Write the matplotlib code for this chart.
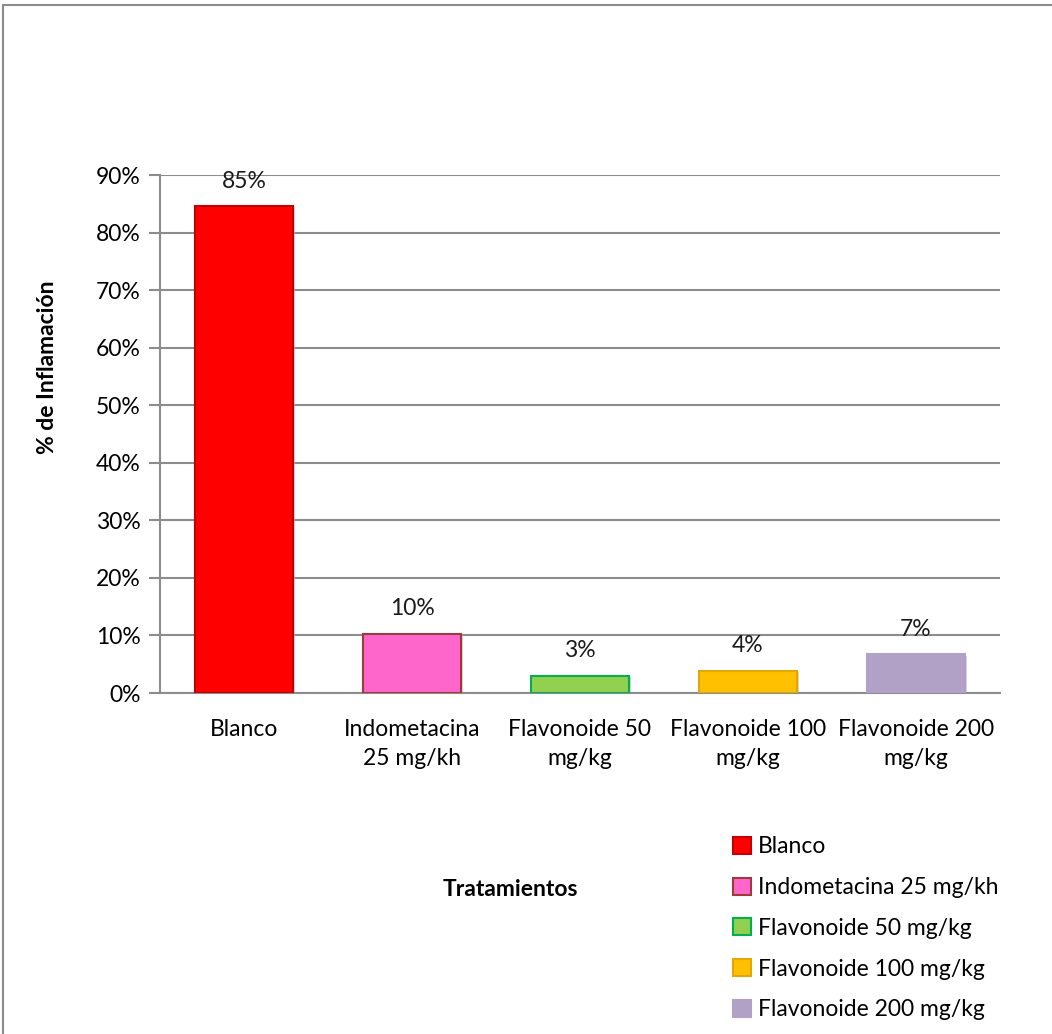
import matplotlib
matplotlib.use("Agg")
import matplotlib.pyplot as plt
from matplotlib.patches import Rectangle
from matplotlib.ticker import FuncFormatter

plt.rcParams['font.family'] = ['Lato', 'DejaVu Sans']

tratamientos = ["Blanco", "Indometacina 25 mg/kh", "Flavonoide 50 mg/kg",
                "Flavonoide 100 mg/kg", "Flavonoide 200 mg/kg"]
tick_labels = ["Blanco", "Indometacina\n25 mg/kh", "Flavonoide 50\nmg/kg",
               "Flavonoide 100\nmg/kg", "Flavonoide 200\nmg/kg"]
inflamacion = [0.846, 0.103, 0.030, 0.039, 0.067]

fill_colors = ["#FF0000", "#FF66CC", "#92D050", "#FFC000", "#B2A1C7"]
edge_colors = ["#C00000", "#9B3B3B", "#00B050", "#E0A800", "#B2A1C7"]

FS = 16.5

fig = plt.figure(figsize=(10.52, 10.34), dpi=100)
ax = fig.add_axes([160 / 1052, 1 - 693 / 1034, 840 / 1052, 518 / 1034])

# outer chart frame
fig.patches.append(Rectangle((3 / 1052, -0.01), 1.2, 1 - 5 / 1034 + 0.01,
                             transform=fig.transFigure, fill=False,
                             edgecolor="#8C8C8C", linewidth=1.5))

x = range(len(tratamientos))
bars = []
for i, (v, fc, ec, name) in enumerate(zip(inflamacion, fill_colors,
                                          edge_colors, tratamientos)):
    # soft drop shadow behind each bar
    ax.bar(i + 0.012, v, width=0.58, bottom=-0.002, color="#BDBDBD",
           alpha=0.6, zorder=2, linewidth=0)
    b = ax.bar(i, v, width=0.58, color=fc, edgecolor=ec, linewidth=1.5,
               zorder=3, label=name)
    bars.append(b)
    ax.annotate(f"{v:.0%}", (i, v), xytext=(0, 18), textcoords="offset points",
                ha="center", va="center", fontsize=FS, color="#1a1a1a")

ax.set_xlim(-0.5, 4.5)
ax.set_ylim(0, 0.9)
ax.set_yticks([i / 10 for i in range(10)])
ax.yaxis.set_major_formatter(FuncFormatter(lambda v, _: f"{v:.0%}"))
ax.set_xticks(list(x))
ax.set_xticklabels(tick_labels, fontsize=FS, linespacing=1.45)
ax.tick_params(axis="x", length=0, pad=19)
ax.tick_params(axis="y", length=8, width=1.5, color="#8C8C8C",
               labelsize=FS, pad=6)
ax.grid(axis="y", color="#8C8C8C", linewidth=1.5, zorder=0)
ax.set_axisbelow(True)
for s in ("top", "right"):
    ax.spines[s].set_visible(False)
for s in ("left", "bottom"):
    ax.spines[s].set_color("#8C8C8C")
    ax.spines[s].set_linewidth(1.5)

fig.text(48 / 1052, 1 - 367 / 1034, "% de Inflamación", rotation=90,
         ha="center", va="center", fontsize=FS, fontweight="bold")
fig.text(510 / 1052, 1 - 889 / 1034, "Tratamientos", ha="center",
         va="center", fontsize=FS, fontweight="bold")

fig.legend(handles=[b[0] for b in bars], labels=tratamientos,
           loc="upper left", bbox_to_anchor=(722 / 1052, 1 - 825 / 1034),
           frameon=False, fontsize=FS, handlelength=0.75, handleheight=0.75,
           handletextpad=0.3, labelspacing=0.86, borderpad=0)

fig.savefig("out.png", dpi=100)
